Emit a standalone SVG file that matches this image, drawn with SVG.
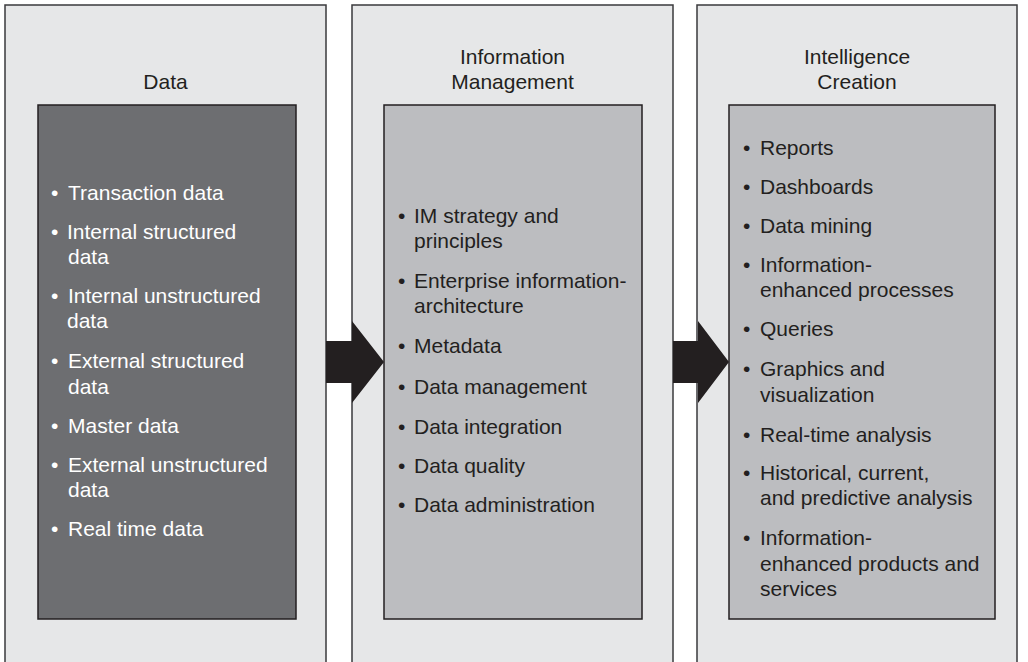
<svg xmlns="http://www.w3.org/2000/svg" width="1028" height="662" viewBox="0 0 1028 662">
<style>
.panel{fill:#e6e7e8;stroke:#3a3a3c;stroke-width:1.5}
.inner-dark{fill:#6d6e71;stroke:#231f20;stroke-width:1.5}
.inner-light{fill:#bcbdc0;stroke:#231f20;stroke-width:1.5}
text{font-family:"Liberation Sans",Arial,sans-serif;font-size:21px}
.title{fill:#231f20;text-anchor:middle}
.wt{fill:#ffffff}
.bk{fill:#231f20}
.arrow{fill:#231f20}
</style>
<rect width="1028" height="662" fill="#ffffff"/>
<g id="node-data">
<rect class="panel" x="5" y="5" width="321" height="664"/>
<text class="title" x="165.5" y="89">Data</text>
<rect class="inner-dark" x="38" y="105" width="258" height="514"/>
<g class="wt">
<text x="51" y="200">•</text><text x="68" y="200">Transaction data</text>
<text x="51" y="238.5">•</text><text x="67" y="238.5">Internal structured</text>
<text x="68" y="263.5">data</text>
<text x="51" y="303">•</text><text x="68" y="303">Internal unstructured</text>
<text x="67" y="328">data</text>
<text x="51" y="368">•</text><text x="68" y="368">External structured</text>
<text x="68" y="393.5">data</text>
<text x="51" y="433">•</text><text x="68" y="433">Master data</text>
<text x="51" y="472">•</text><text x="68" y="472">External unstructured</text>
<text x="68" y="497">data</text>
<text x="51" y="536">•</text><text x="68" y="536">Real time data</text>
</g>
</g>
<g id="node-im">
<rect class="panel" x="352" y="5" width="321" height="664"/>
<text class="title" x="512.5" y="64">Information</text>
<text class="title" x="512.5" y="89">Management</text>
<rect class="inner-light" x="384" y="105" width="258" height="514"/>
<g class="bk">
<text x="398" y="223">•</text><text x="414" y="223">IM strategy and</text>
<text x="414" y="248">principles</text>
<text x="398" y="288">•</text><text x="414" y="288">Enterprise information-</text>
<text x="414" y="313">architecture</text>
<text x="398" y="353">•</text><text x="414" y="353">Metadata</text>
<text x="398" y="394">•</text><text x="414" y="394">Data management</text>
<text x="398" y="434">•</text><text x="414" y="434">Data integration</text>
<text x="398" y="473">•</text><text x="414" y="473">Data quality</text>
<text x="398" y="512">•</text><text x="414" y="512">Data administration</text>
</g>
</g>
<g id="node-ic">
<rect class="panel" x="697" y="5" width="320" height="664"/>
<text class="title" x="857" y="64">Intelligence</text>
<text class="title" x="857" y="89">Creation</text>
<rect class="inner-light" x="729" y="105" width="266" height="514"/>
<g class="bk">
<text x="743" y="155">•</text><text x="760" y="155">Reports</text>
<text x="743" y="194">•</text><text x="760" y="194">Dashboards</text>
<text x="743" y="233">•</text><text x="760" y="233">Data mining</text>
<text x="743" y="272">•</text><text x="760" y="272">Information-</text>
<text x="760" y="297">enhanced processes</text>
<text x="743" y="336">•</text><text x="760" y="336">Queries</text>
<text x="743" y="376">•</text><text x="760" y="376">Graphics and</text>
<text x="760" y="402">visualization</text>
<text x="743" y="442">•</text><text x="760" y="442">Real-time analysis</text>
<text x="743" y="480">•</text><text x="760" y="480">Historical, current,</text>
<text x="760" y="505">and predictive analysis</text>
<text x="743" y="545">•</text><text x="760" y="545">Information-</text>
<text x="760" y="570.5">enhanced products and</text>
<text x="760" y="596">services</text>
</g>
</g>
<g id="connectors">
<polygon class="arrow" points="326,341 352,341 352,321 384,362 352,403 352,383 326,383"/>
<polygon class="arrow" points="673,341 698,341 698,321 729,362 698,403 698,383 673,383"/>
</g>
</svg>
